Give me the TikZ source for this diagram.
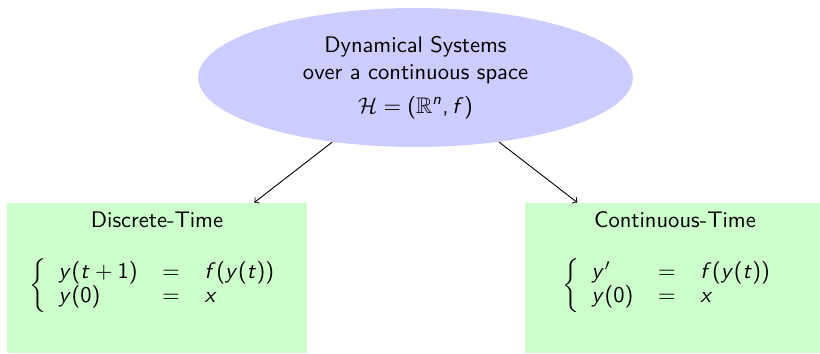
\documentclass[tikz,border=0pt]{standalone}
\usepackage{amssymb}
\renewcommand\familydefault{\sfdefault}
\DeclareSymbolFont{sfsl}{OT1}{cmss}{m}{sl}
\DeclareSymbolFont{sfup}{OT1}{cmss}{m}{n}
\DeclareMathSymbol{x}{\mathalpha}{sfsl}{`x}
\DeclareMathSymbol{y}{\mathalpha}{sfsl}{`y}
\DeclareMathSymbol{t}{\mathalpha}{sfsl}{`t}
\DeclareMathSymbol{f}{\mathalpha}{sfsl}{`f}
\DeclareMathSymbol{n}{\mathalpha}{sfsl}{`n}
\DeclareMathSymbol{0}{\mathalpha}{sfup}{`0}
\DeclareMathSymbol{1}{\mathalpha}{sfup}{`1}
\DeclareMathSymbol{,}{\mathpunct}{sfup}{`,}
\DeclareMathDelimiter{(}{\mathopen}{sfup}{`(}{largesymbols}{"00}
\DeclareMathDelimiter{)}{\mathclose}{sfup}{`)}{largesymbols}{"01}
\usetikzlibrary{shapes.geometric}
\definecolor{ellfill}{RGB}{204,204,255}
\definecolor{boxfill}{RGB}{204,255,204}
\tikzset{
  sysnode/.style={ellipse, fill=ellfill, minimum width=193pt, minimum height=61.7pt, inner sep=0pt, align=center},
  kindbox/.style={rectangle, fill=boxfill, minimum width=133.2pt, minimum height=66.6pt, inner sep=0pt},
  kindtitle/.style={inner sep=0pt},
  eqnode/.style={inner sep=0pt, anchor=west},
  conn/.style={->, line width=0.4pt}
}
\begin{document}
\begin{tikzpicture}[x=0.444pt, y=-0.444pt]
\useasboundingbox (0,0) rectangle (820,353);
\clip (0,0) rectangle (820,353);
\node[sysnode] (sys) at (415.5,77.5) {Dynamical Systems\\ over a continuous space\\[3pt] $\mathcal{H}=(\mathbb{R}^n,f)$};
\node[kindbox] (dt) at (157,278) {};
\node[kindbox] (ct) at (675,278) {};
\node[kindtitle] (dtt) at (157,220) {Discrete-Time};
\node[kindtitle] (ctt) at (675,220) {Continuous-Time};
\node[eqnode] (dte) at (29,286) {\arraycolsep=5.5pt\renewcommand\arraystretch{0.88}$\left\{\begin{array}{lcl} y(t+1) & = & f(y(t))\\ y(0) & = & x\end{array}\right.$};
\node[eqnode] (cte) at (562,286) {\arraycolsep=5.5pt\renewcommand\arraystretch{0.88}$\left\{\begin{array}{lcl} y' & = & f(y(t))\\ y(0) & = & x\end{array}\right.$};
\draw[conn] (sys) -- (dt);
\draw[conn] (sys) -- (ct);
\end{tikzpicture}
\end{document}
